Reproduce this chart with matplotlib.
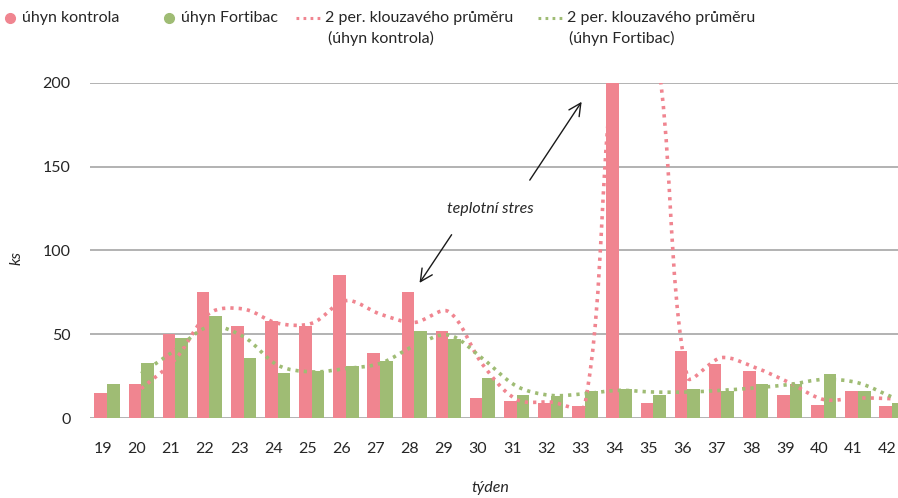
import matplotlib
matplotlib.use("Agg")
import matplotlib.pyplot as plt
import numpy as np
from matplotlib.path import Path
from matplotlib.patches import PathPatch
from matplotlib.lines import Line2D

plt.rcParams['font.family'] = ['Lato', 'DejaVu Sans']

weeks = [19, 20, 21, 22, 23, 24, 25, 26, 27, 28, 29, 30,
         31, 32, 33, 34, 35, 36, 37, 38, 39, 40, 41, 42]
kontrola = [15, 20, 50, 75, 55, 58, 55, 85, 39, 75, 52, 12,
            10, 9, 7, 450, 9, 40, 32, 28, 14, 8, 16, 7]
fortibac = [20, 33, 48, 61, 36, 27, 28, 31, 34, 52, 47, 24,
            14, 13, 16, 17, 14, 17, 16, 20, 20, 26, 16, 9]

RED = '#f08590'
GREEN = '#9fbc74'
GRID = '#a6a6a6'
TXT = '#262626'


def moving_avg(vals, n=2):
    v = np.array(vals, dtype=float)
    return np.convolve(v, np.ones(n) / n, mode='valid')


def smooth_path(xs, ys, sx=34.13, sy=1.68):
    # bezier through the points, tangents scaled by segment length
    # (roughly what excel does for a "smoothed line")
    pts = np.column_stack([xs, ys]).astype(float)
    scr = pts * [sx, sy]
    n = len(pts)

    def d(i, j):
        i = min(max(i, 0), n - 1)
        j = min(max(j, 0), n - 1)
        return np.hypot(*(scr[j] - scr[i]))

    verts = [pts[0]]
    codes = [Path.MOVETO]
    for i in range(n - 1):
        p0 = pts[max(i - 1, 0)]
        p1 = pts[i]
        p2 = pts[i + 1]
        p3 = pts[min(i + 2, n - 1)]
        d01, d12, d23 = d(i - 1, i), d(i, i + 1), d(i + 1, i + 2)
        k1 = d12 / (d01 + d12) if d01 + d12 > 0 else 0
        k2 = d12 / (d12 + d23) if d12 + d23 > 0 else 0
        c1 = p1 + (p2 - p0) * k1 / 3
        c2 = p2 - (p3 - p1) * k2 / 3
        verts += [c1, c2, p2]
        codes += [Path.CURVE4] * 3
    return Path(verts, codes)


fig = plt.figure(figsize=(8.98, 4.98), dpi=100)
ax = fig.add_axes([90 / 898, 80 / 498, 808 / 898, 335.3 / 498])

x = np.arange(len(weeks))
w = 0.37
ax.bar(x - w / 2, kontrola, w, color=RED, zorder=2)
ax.bar(x + w / 2, fortibac, w, color=GREEN, zorder=2)

dots = (0, (0.9, 1.4))
ma_k = moving_avg(kontrola)
ma_f = moving_avg(fortibac)
for ma, col in [(ma_k, RED), (ma_f, GREEN)]:
    p = PathPatch(smooth_path(x[1:], ma), facecolor='none', edgecolor=col,
                  lw=2.6, linestyle=dots, zorder=3)
    ax.add_patch(p)

ax.set_xlim(-0.5, -0.5 + 808 / 34.13)
ax.set_ylim(0, 200)
ax.set_yticks([0, 50, 100, 150, 200])
ax.set_xticks(x - 0.13)
ax.set_xticklabels([str(wk) for wk in weeks])
ax.yaxis.grid(True, color=GRID, lw=1.2, zorder=0)
ax.set_axisbelow(True)
for s in ax.spines.values():
    s.set_visible(False)
ax.tick_params(axis='both', length=0, labelsize=11.5, colors=TXT)
ax.tick_params(axis='y', pad=14)
ax.tick_params(axis='x', pad=17)

fig.text(17 / 898, 1 - 258 / 498, 'ks', rotation=90, style='italic',
         fontsize=11.5, color=TXT, ha='center', va='center')
fig.text(490 / 898, 1 - 488 / 498, 'týden', style='italic',
         fontsize=11.5, color=TXT, ha='center', va='center')

# annotation
ax.text(11.22, 124.4, 'teplotní stres', style='italic', fontsize=11.5,
        color=TXT, ha='center', va='center')
arrow = dict(arrowstyle='->', color='#1a1a1a', lw=1.0, mutation_scale=22)
ax.annotate('', xy=(13.95, 190), xytext=(12.34, 140.5), arrowprops=arrow)
ax.annotate('', xy=(9.11, 79.2), xytext=(10.14, 110.7), arrowprops=arrow)

# legend drawn by hand
fs = 11.5
def fx(px):
    return px / 898
def fy(py):
    return 1 - py / 498

fig.add_artist(Line2D([fx(10)], [fy(18)], marker='o', ms=7, color=RED, lw=0))
fig.text(fx(22), fy(18), 'úhyn kontrola', fontsize=fs, color=TXT, va='center')
fig.add_artist(Line2D([fx(169)], [fy(18)], marker='o', ms=7, color=GREEN, lw=0))
fig.text(fx(181), fy(18), 'úhyn Fortibac', fontsize=fs, color=TXT, va='center')
fig.add_artist(Line2D([fx(296), fx(320)], [fy(18), fy(18)], color=RED, lw=2.2,
                      linestyle=dots))
fig.text(fx(325), fy(18), '2 per. klouzavého průměru', fontsize=fs, color=TXT,
         va='center')
fig.text(fx(328), fy(38), '(úhyn kontrola)', fontsize=fs, color=TXT, va='center')
fig.add_artist(Line2D([fx(538), fx(562)], [fy(18), fy(18)], color=GREEN, lw=2.2,
                      linestyle=dots))
fig.text(fx(567), fy(18), '2 per. klouzavého průměru', fontsize=fs, color=TXT,
         va='center')
fig.text(fx(569), fy(38), '(úhyn Fortibac)', fontsize=fs, color=TXT, va='center')

fig.savefig('out.png', dpi=100)
